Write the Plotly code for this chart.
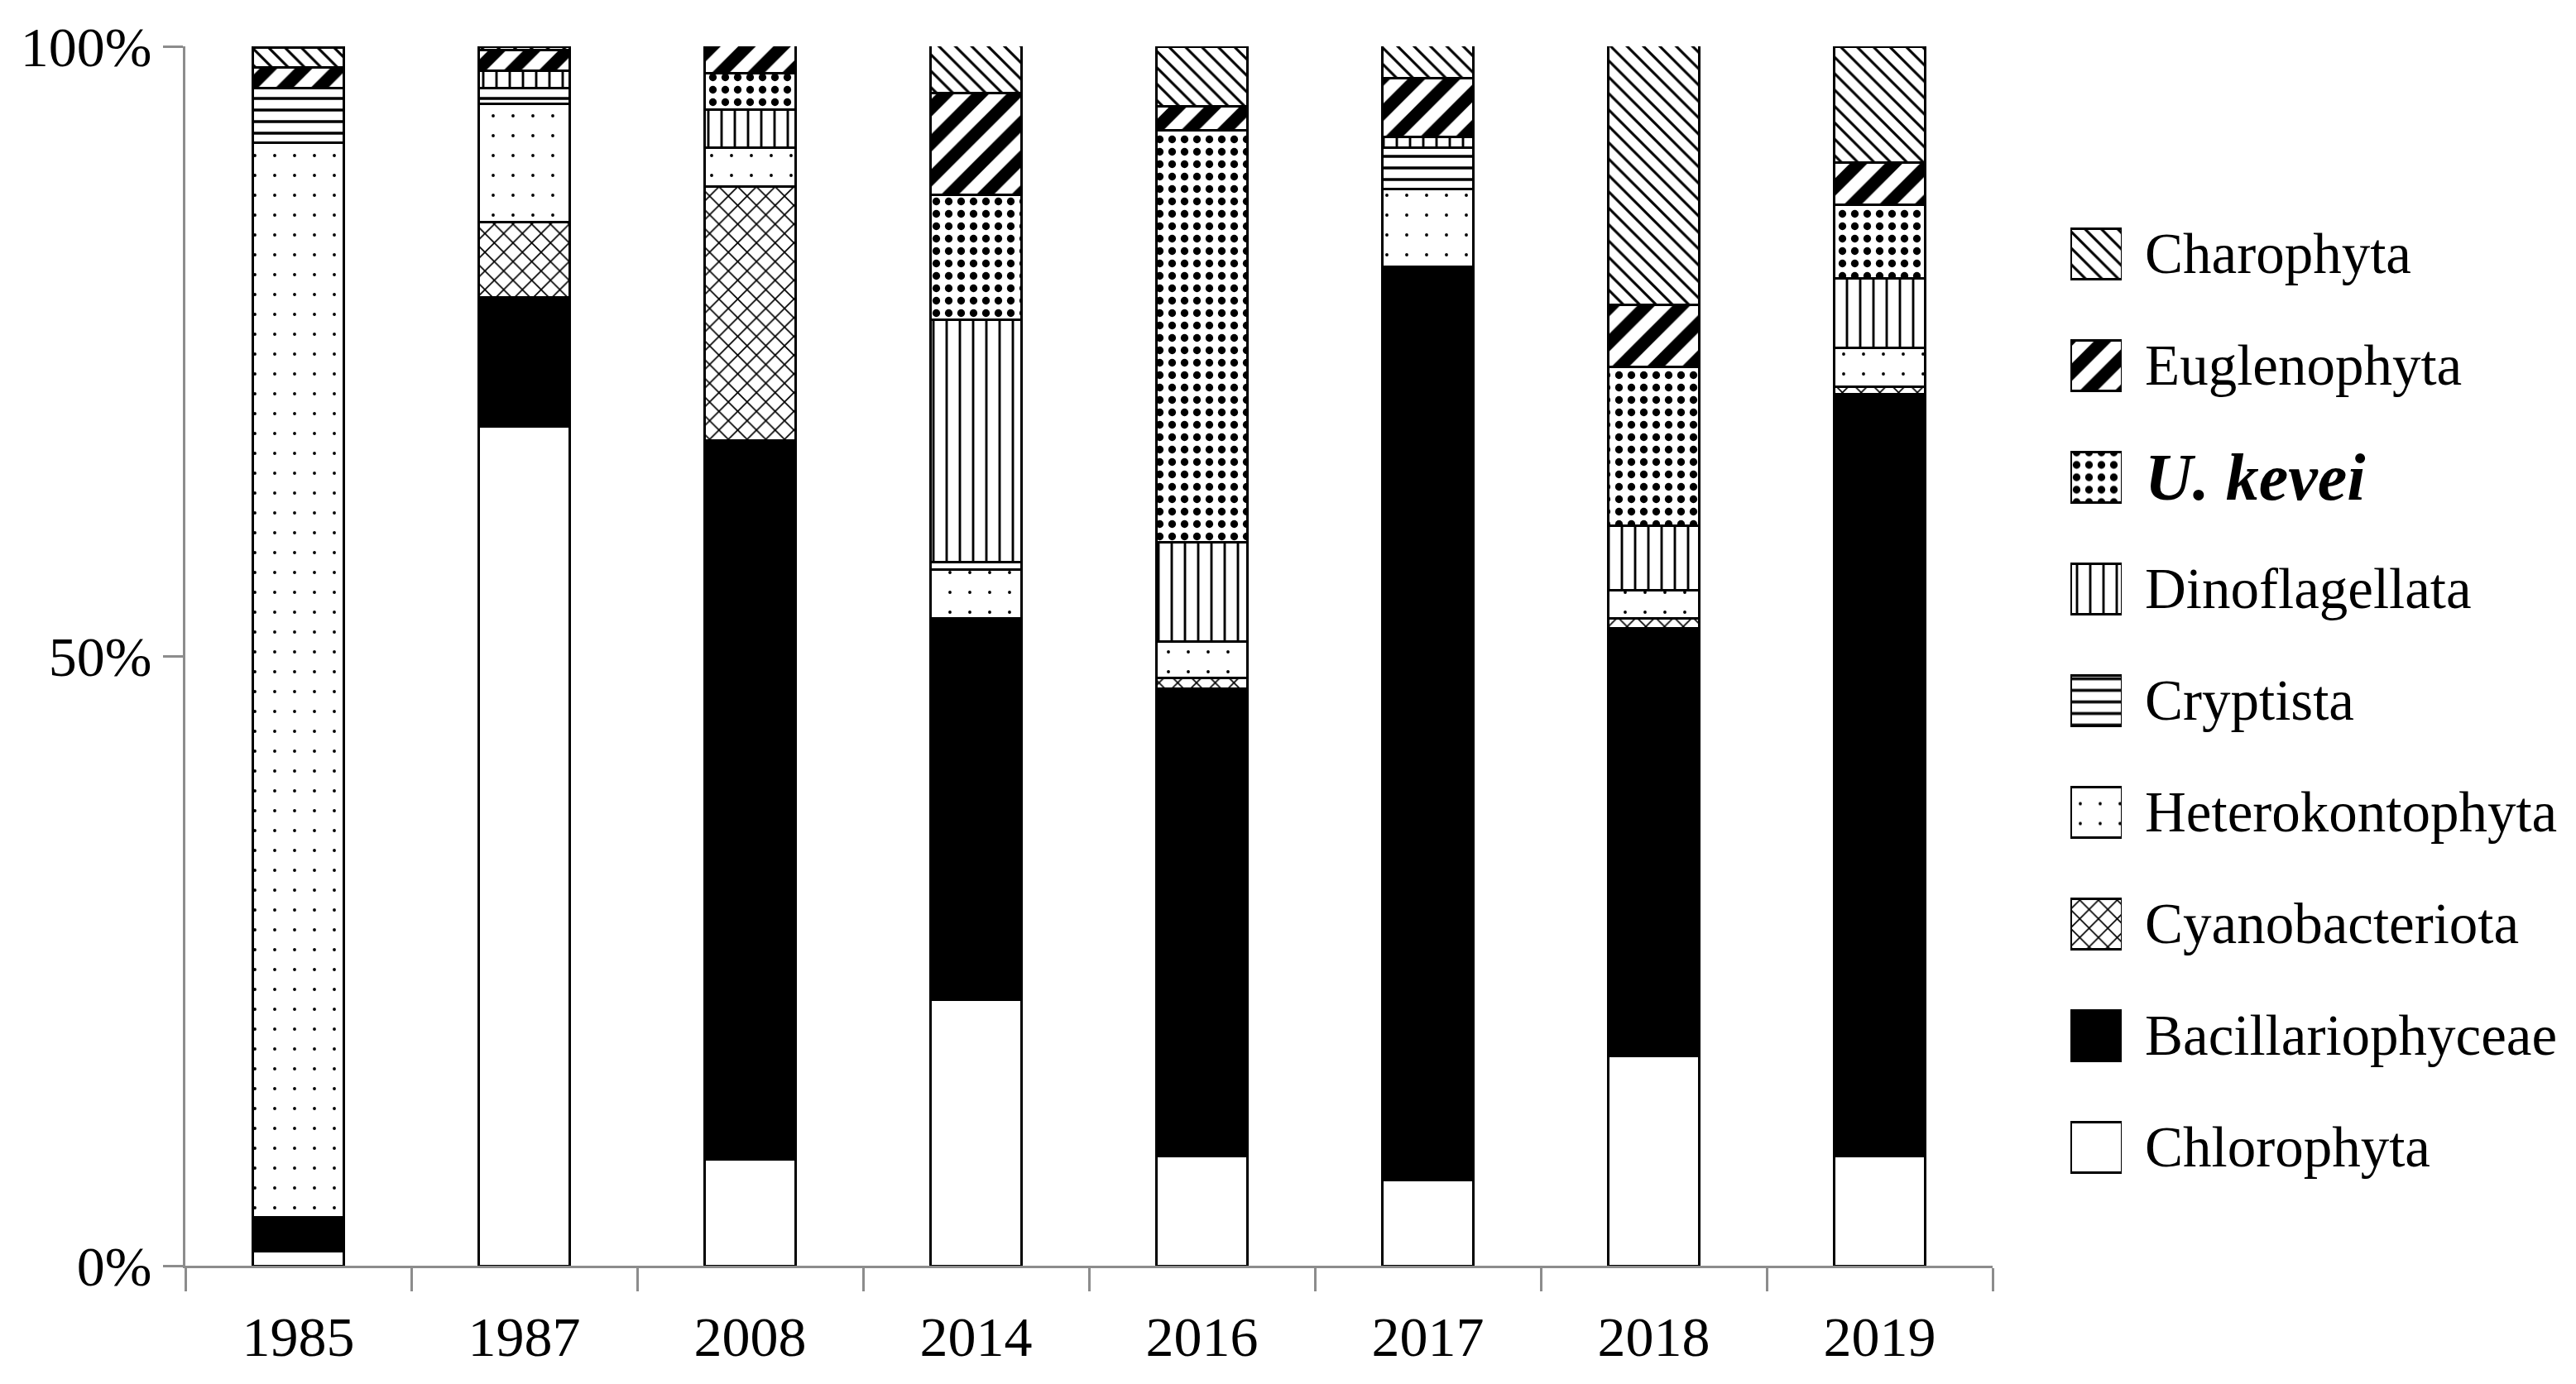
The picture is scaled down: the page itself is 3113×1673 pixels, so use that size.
import plotly.graph_objects as go

years = ["1985", "1987", "2008", "2014", "2016", "2017", "2018", "2019"]

chlorophyta      = [1.2, 68.8, 8.7, 21.8, 9.0, 7.0, 17.2, 9.0]
bacillariophyceae = [2.8, 10.6, 59.0, 31.3, 38.3, 74.9, 35.1, 62.5]
cyanobacteriota  = [0, 6.2, 20.8, 0, 0.9, 0, 0.8, 0.6]
heterokontophyta = [88.1, 9.7, 3.2, 4.0, 3.0, 6.4, 2.3, 3.2]
cryptista        = [4.5, 1.3, 0, 0.6, 0, 3.4, 0, 0]
dinoflagellata   = [0, 1.4, 3.1, 19.9, 8.1, 0.9, 5.3, 5.7]
u_kevei          = [0, 0, 3.0, 10.2, 33.8, 0, 13.0, 6.0]
euglenophyta     = [1.7, 1.7, 2.3, 8.4, 2.0, 4.8, 5.1, 3.5]
charophyta       = [1.6, 0.3, 0, 3.9, 4.9, 2.7, 21.3, 9.5]

series_names = ["Chlorophyta", "Bacillariophyceae", "Cyanobacteriota",
                "Heterokontophyta", "Cryptista", "Dinoflagellata",
                "U. kevei", "Euglenophyta", "Charophyta"]
series_values = [chlorophyta, bacillariophyceae, cyanobacteriota,
                 heterokontophyta, cryptista, dinoflagellata,
                 u_kevei, euglenophyta, charophyta]
legend_labels = ["Chlorophyta", "Bacillariophyceae", "Cyanobacteriota",
                 "Heterokontophyta", "Cryptista", "Dinoflagellata",
                 "<b><i>U. kevei</i></b>", "Euglenophyta", "Charophyta"]
y_ticks = [0, 50, 100]
y_tick_text = ["0%", "50%", "100%"]

# styles (color, pattern)
styles = {
    "Chlorophyta": dict(color="white", pattern=None),
    "Bacillariophyceae": dict(color="black", pattern=None),
    "Cyanobacteriota": dict(color="white", pattern=dict(shape="x", size=16, solidity=0.2)),
    "Heterokontophyta": dict(color="white", pattern=dict(shape=".", size=24, solidity=0.02)),
    "Cryptista": dict(color="white", pattern=dict(shape="-", size=14, solidity=0.25)),
    "Dinoflagellata": dict(color="white", pattern=dict(shape="|", size=16, solidity=0.18)),
    "U. kevei": dict(color="white", pattern=dict(shape=".", size=15, solidity=0.3)),
    "Euglenophyta": dict(color="white", pattern=dict(shape="/", size=30, solidity=0.5)),
    "Charophyta": dict(color="white", pattern=dict(shape="\\", size=14, solidity=0.22)),
}

FONT = "Liberation Serif"
W, H = 3113, 1673
OFF = 8  # page body margin
ML, MR, MT, MB = 224 - OFF, 10, 56 - OFF, H - (1530 - OFF)
plot_w = W - ML - MR
plot_h = H - MT - MB

def marker_for(name):
    st = styles[name]
    m = dict(color=st["color"], line=dict(color="black", width=3))
    if st["pattern"] is not None:
        p = dict(st["pattern"])
        p.update(fgcolor="black", bgcolor="white", fillmode="replace")
        m["pattern"] = p
    return m

fig = go.Figure()

for name, vals in zip(series_names, series_values):
    fig.add_trace(go.Bar(
        x=years, y=[v if v > 0 else None for v in vals], name=name,
        width=0.4, marker=marker_for(name), showlegend=False,
        xaxis="x", yaxis="y",
    ))

# custom legend drawn as bars on a secondary axis
legend_order = list(range(len(series_names)))[::-1]  # Charophyta at top
for pos, idx in enumerate(legend_order):
    name = series_names[idx]
    fig.add_trace(go.Bar(
        x=[1], y=[pos], base=[0], orientation="h", width=0.45,
        marker=marker_for(name), showlegend=False,
        xaxis="x2", yaxis="y2", hoverinfo="skip",
    ))

# legend geometry (page pixel coordinates)
first_center = 307
step = 135
top_px = first_center - step / 2
bot_px = first_center + 8 * step + step / 2
def py(Y):
    return (MT + plot_h - (Y - OFF)) / plot_h
def px(X):
    return ((X - OFF) - ML) / plot_w

annotations = []
for pos, idx in enumerate(legend_order):
    ycen = first_center + pos * step
    size = 80 if series_names[idx] == "U. kevei" else 69
    annotations.append(dict(
        x=px(2590), y=py(ycen), xref="paper", yref="paper",
        text=legend_labels[idx], showarrow=False, xanchor="left", yanchor="middle",
        font=dict(family=FONT, size=size, color="black"),
    ))

axis_gray = "#8c8c8c"
fig.update_layout(
    width=W, height=H,
    margin=dict(l=ML, r=MR, t=MT, b=MB),
    paper_bgcolor="white", plot_bgcolor="white",
    barmode="stack",
    xaxis=dict(
        domain=[0, px(2408)], type="category", range=[-0.5, 7.5],
        showline=True, linecolor=axis_gray, linewidth=3,
        ticks="outside", tickson="boundaries", ticklen=28, tickwidth=3, tickcolor=axis_gray,
        showgrid=False, zeroline=False, ticklabelstandoff=24,
        tickfont=dict(family=FONT, size=68, color="black"),
    ),
    yaxis=dict(
        range=[0, 100], tickvals=y_ticks, ticktext=y_tick_text,
        showline=True, linecolor=axis_gray, linewidth=3,
        ticks="outside", ticklen=24, tickwidth=3, tickcolor=axis_gray,
        showgrid=False, zeroline=False,
        tickfont=dict(family=FONT, size=68, color="black"),
    ),
    xaxis2=dict(domain=[px(2502), px(2564)], range=[0, 1], visible=False,
                anchor="y2", fixedrange=True),
    yaxis2=dict(domain=[py(bot_px), py(top_px)], range=[8.5, -0.5], visible=False,
                anchor="x2", fixedrange=True),
    annotations=annotations,
    font=dict(family=FONT, color="black"),
)

fig.write_html("out.html")
